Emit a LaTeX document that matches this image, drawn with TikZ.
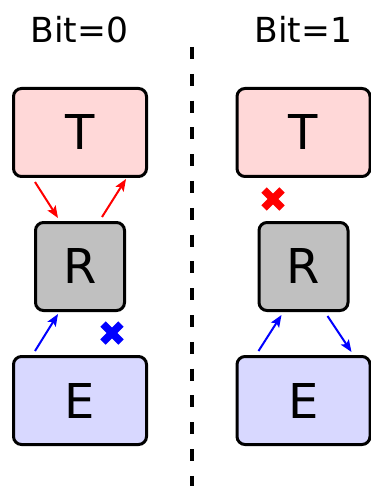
\documentclass[tikz,border=0pt]{standalone}
\usepackage{fontspec}
\setmainfont{DejaVu Sans}
\usetikzlibrary{arrows.meta}
\definecolor{tfill}{RGB}{255,216,216}
\definecolor{rfill}{RGB}{192,192,192}
\definecolor{efill}{RGB}{216,216,255}
\begin{document}
\begin{tikzpicture}[x=1pt,y=-1pt,
  box/.style={draw=black,line width=3pt,rounded corners=8pt,inner sep=0pt,
    font=\fontsize{48}{56}\selectfont},
  wide/.style={box,minimum width=133pt,minimum height=88pt},
  small/.style={box,minimum width=89pt,minimum height=88pt},
  title/.style={anchor=base,inner sep=0pt,font=\fontsize{34.5}{40}\selectfont},
  redarr/.style={draw=red,line width=2pt,-{Stealth[length=12pt,width=9.5pt,inset=2.5pt]}},
  bluearr/.style={draw=blue,line width=2pt,-{Stealth[length=12pt,width=9.5pt,inset=2.5pt]}},
  cross/.style={line width=7.5pt}
]
\useasboundingbox (0,0) rectangle (371,486);
% titles
\node[title] (b0) at (79.5,42.3) {Bit=0};
\node[title] (b1) at (303.5,42.3) {Bit=1};
% divider
\coordinate (dtop) at (192,47);
\coordinate (dbot) at (192,486);
\draw[line width=4pt,dash pattern=on 12pt off 14.8pt] (dtop) -- (dbot);
% left column
\node[wide,fill=tfill] (T0) at (80,132.5) {T};
\node[small,fill=rfill] (R0) at (80,266.5) {R};
\node[wide,fill=efill] (E0) at (80,400.5) {E};
% right column
\node[wide,fill=tfill] (T1) at (303.5,132.5) {T};
\node[small,fill=rfill] (R1) at (303.5,266.5) {R};
\node[wide,fill=efill] (E1) at (303.5,400.5) {E};
% left arrows
\draw[redarr] ([shift={(23,4)}]T0.south west) -- ([shift={(24,-3)}]R0.north west);
\draw[redarr] ([shift={(-24,-4)}]R0.north east) -- ([shift={(-22,1)}]T0.south east);
\draw[bluearr] ([shift={(23,-4)}]E0.north west) -- ([shift={(24,2)}]R0.south west);
% right arrows
\draw[bluearr] ([shift={(23,-4)}]E1.north west) -- ([shift={(24,3)}]R1.south west);
\draw[bluearr] ([shift={(-22,4)}]R1.south east) -- ([shift={(-20,-3)}]E1.north east);
% crosses
\coordinate (x0) at (112,333);
\coordinate (x1) at (273,199);
\draw[cross,blue] ([shift={(-9,-9)}]x0) -- ([shift={(9,9)}]x0);
\draw[cross,blue] ([shift={(-9,9)}]x0) -- ([shift={(9,-9)}]x0);
\draw[cross,red] ([shift={(-9,-9)}]x1) -- ([shift={(9,9)}]x1);
\draw[cross,red] ([shift={(-9,9)}]x1) -- ([shift={(9,-9)}]x1);
\end{tikzpicture}
\end{document}
